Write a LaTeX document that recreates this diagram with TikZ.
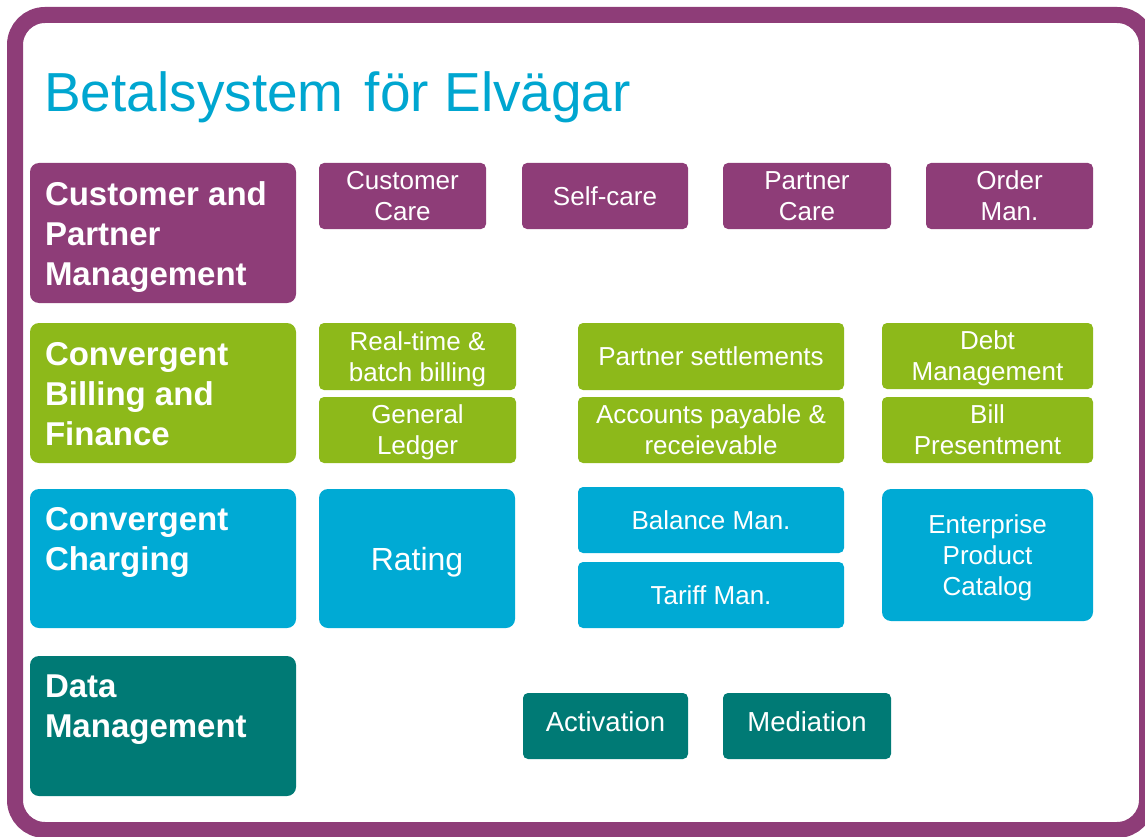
\documentclass[tikz,border=0pt]{standalone}
\usepackage{fontspec}
\setmainfont{Liberation Sans}
\usepackage{tikz}

\definecolor{cpurple}{RGB}{142,61,120}
\definecolor{cgreen}{RGB}{141,185,26}
\definecolor{cblue}{RGB}{0,170,212}
\definecolor{cteal}{RGB}{0,122,117}
\definecolor{ctitle}{RGB}{0,166,208}
\newcommand{\cattext}[1]{\parbox[c][102pt][t]{236pt}{#1}}

\begin{document}
\begin{tikzpicture}[x=1pt, y=-1pt,
    frame/.style={draw=cpurple, line width=16pt, rounded corners=30pt},
    cat/.style={fill=#1, rounded corners=9pt, inner sep=0pt, text=white, minimum width=266pt, minimum height=140pt, font=\bfseries\fontsize{33}{40}\selectfont},
    item/.style={fill=#1, rounded corners=5pt, inner sep=0pt, text=white, align=center, text depth=0pt, font=\fontsize{26}{31}\selectfont}]
    \useasboundingbox (0,0) rectangle (1145,837);
    \draw[frame] (15,15) rectangle (1147,830);
    \node[anchor=base west, inner sep=0pt, text=ctitle, font=\fontsize{55}{66}\selectfont] (title) at (44,112) {Betalsystem\hspace{6pt} för Elvägar};

    % categories
    \node[cat=cpurple] (cpm) at (163,233) {\cattext{Customer and\\Partner\\Management}};
    \node[cat=cgreen] (cbf) at (163,393) {\cattext{Convergent\\Billing and\\Finance}};
    \node[cat=cblue, minimum height=139pt] (cch) at (163,558.5) {\cattext{Convergent\\Charging}};
    \node[cat=cteal] (dm) at (163,726) {\cattext{Data\\Management}};

    % customer and partner management
    \node[item=cpurple, minimum width=167pt, minimum height=66pt] (care) at (402.5,196) {Customer\\Care};
    \node[item=cpurple, minimum width=166pt, minimum height=66pt] (self) at (605,196) {Self-care};
    \node[item=cpurple, minimum width=168pt, minimum height=66pt] (pcare) at (807,196) {Partner\\Care};
    \node[item=cpurple, minimum width=167pt, minimum height=66pt] (order) at (1009.5,196) {Order\\Man.};

    % billing and finance
    \node[item=cgreen, minimum width=197pt, minimum height=67pt] (rtb) at (417.5,356.5) {Real-time \&\\batch billing};
    \node[item=cgreen, minimum width=197pt, minimum height=66pt] (gl) at (417.5,430) {General\\Ledger};
    \node[item=cgreen, minimum width=266pt, minimum height=67pt] (ps) at (711,356.5) {Partner settlements};
    \node[item=cgreen, minimum width=266pt, minimum height=66pt] (ap) at (711,430) {Accounts payable \&\\receievable};
    \node[item=cgreen, minimum width=211pt, minimum height=66pt] (debt) at (987.5,356) {Debt\\Management};
    \node[item=cgreen, minimum width=211pt, minimum height=66pt] (bill) at (987.5,430) {Bill\\Presentment};

    % charging
    \node[item=cblue, rounded corners=9pt, minimum width=196pt, minimum height=139pt, font=\fontsize{32}{38}\selectfont] (rating) at (417,558.5) {Rating};
    \node[item=cblue, minimum width=266pt, minimum height=66pt] (bal) at (711,520) {Balance Man.};
    \node[item=cblue, minimum width=266pt, minimum height=66pt] (tariff) at (711,595) {Tariff Man.};
    \node[item=cblue, rounded corners=9pt, minimum width=211pt, minimum height=132pt] (epc) at (987.5,555) {Enterprise\\Product\\Catalog};

    % data management
    \node[item=cteal, text depth=8pt, minimum width=165pt, minimum height=66pt, font=\fontsize{27.5}{33}\selectfont] (act) at (605.5,726) {Activation};
    \node[item=cteal, text depth=8pt, minimum width=168pt, minimum height=66pt, font=\fontsize{27.5}{33}\selectfont] (med) at (807,726) {Mediation};
\end{tikzpicture}
\end{document}
